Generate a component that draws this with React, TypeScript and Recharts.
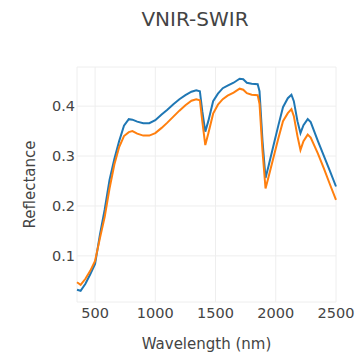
import { CartesianGrid, Line, LineChart, XAxis, YAxis } from "recharts";

// Reflectance spectra over the VNIR–SWIR range (nm)
const wavelengths = [
  350, 380, 420, 460, 500, 540, 580, 620, 660, 700, 740, 780, 810, 850, 900,
  950, 1000, 1050, 1100, 1150, 1200, 1250, 1300, 1340, 1370, 1390, 1415, 1440,
  1480, 1520, 1560, 1600, 1650, 1700, 1730, 1760, 1800, 1850, 1865, 1890, 1915,
  1940, 1980, 2020, 2060, 2100, 2130, 2150, 2180, 2205, 2230, 2265, 2290, 2350,
  2400, 2450, 2500,
];

const sampleA = [
  0.032, 0.03, 0.044, 0.063, 0.084, 0.142, 0.193, 0.252, 0.294, 0.33, 0.361,
  0.374, 0.373, 0.369, 0.366, 0.366, 0.372, 0.383, 0.393, 0.404, 0.414, 0.422,
  0.429, 0.432, 0.43, 0.39, 0.349, 0.37, 0.41, 0.425, 0.436, 0.441, 0.447,
  0.455, 0.454, 0.447, 0.445, 0.444, 0.43, 0.33, 0.256, 0.28, 0.32, 0.36,
  0.398, 0.416, 0.423, 0.41, 0.37, 0.346, 0.362, 0.374, 0.368, 0.33, 0.3,
  0.27, 0.239,
];

const sampleB = [
  0.047, 0.042, 0.054, 0.07, 0.09, 0.135, 0.178, 0.235, 0.283, 0.318, 0.34,
  0.348, 0.35, 0.345, 0.341, 0.341, 0.346, 0.356, 0.367, 0.379, 0.391, 0.402,
  0.411, 0.414, 0.412, 0.37, 0.322, 0.345, 0.385, 0.403, 0.414, 0.421, 0.427,
  0.435, 0.433, 0.426, 0.423, 0.422, 0.405, 0.31, 0.235, 0.258, 0.296, 0.334,
  0.37, 0.386, 0.394, 0.38, 0.34, 0.312, 0.33, 0.343, 0.337, 0.305, 0.275,
  0.243, 0.212,
];

const xTicks = [500, 1000, 1500, 2000, 2500];
const yTicks = [0.1, 0.2, 0.3, 0.4];

const data = wavelengths.map((w, i) => ({
  wavelength: w,
  a: sampleA[i],
  b: sampleB[i],
}));

const FONT = '"DejaVu Sans", Verdana, sans-serif';
const TEXT = "#444";

export default function App() {
  return (
    <div
      style={{
        position: "fixed",
        left: 0,
        top: 0,
        width: 360,
        height: 361,
        background: "#fff",
        fontFamily: FONT,
      }}
    >
      <div
        style={{
          position: "absolute",
          left: 0,
          top: 9,
          width: 390,
          textAlign: "center",
          fontSize: 20,
          lineHeight: "20px",
          color: TEXT,
        }}
      >
        VNIR-SWIR
      </div>
      <LineChart
        width={360}
        height={361}
        data={data}
        margin={{ top: 67, right: 24, bottom: 0, left: 0 }}
      >
        <CartesianGrid stroke="#eee" strokeWidth={1} />
        <XAxis
          dataKey="wavelength"
          type="number"
          domain={[350, 2500]}
          ticks={xTicks}
          height={59}
          axisLine={false}
          tickLine={false}
          tickSize={6}
          tickMargin={0}
          tick={{ fill: TEXT, fontSize: 14.5, fontFamily: FONT }}
          label={{
            value: "Wavelength (nm)",
            position: "insideBottom",
            offset: 12,
            fill: TEXT,
            fontSize: 15,
            fontFamily: FONT,
          }}
        />
        <YAxis
          type="number"
          domain={[0.0075, 0.4785]}
          ticks={yTicks}
          width={77}
          axisLine={false}
          tickLine={false}
          tickSize={2}
          tickMargin={0}
          tickFormatter={(v) => String(v)}
          tick={{ fill: TEXT, fontSize: 14.5, fontFamily: FONT }}
          label={{
            value: "Reflectance",
            angle: -90,
            position: "insideLeft",
            offset: 30,
            fill: TEXT,
            fontSize: 15,
            fontFamily: FONT,
            style: { textAnchor: "middle" },
          }}
        />
        <Line
          dataKey="a"
          type="linear"
          stroke="#1f77b4"
          strokeWidth={2}
          dot={false}
          activeDot={false}
          isAnimationActive={false}
        />
        <Line
          dataKey="b"
          type="linear"
          stroke="#ff7f0e"
          strokeWidth={2}
          dot={false}
          activeDot={false}
          isAnimationActive={false}
        />
      </LineChart>
    </div>
  );
}
